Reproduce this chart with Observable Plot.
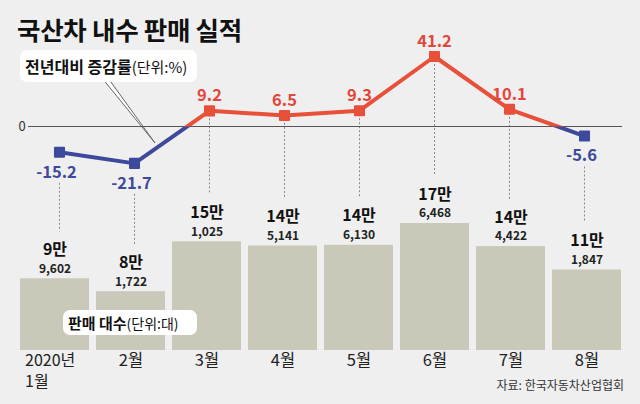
<!DOCTYPE html>
<html>
<head>
<meta charset="utf-8">
<script src="https://cdn.jsdelivr.net/npm/d3@7"></script>
<script src="https://cdn.jsdelivr.net/npm/@observablehq/plot@0.6"></script>
<style>
  html, body { margin: 0; padding: 0; background: #efefef; }
  #wrap { position: relative; width: 640px; height: 404px; background: #efefef; overflow: hidden;
          font-family: "Noto Sans CJK KR", "Noto Sans", sans-serif; color: #111; }
  .layer { position: absolute; left: 0; top: 0; }
  .title { position: absolute; left: 17px; top: 10px; font-size: 25.5px; font-weight: 700; letter-spacing: -0.3px; color: #111; }
  .box { position: absolute; background: #fff; border-radius: 7px; white-space: nowrap; color: #111; }
  .box b { font-weight: 700; }
  .box span { font-weight: 400; }
  .src { position: absolute; right: 16px; top: 376px; font-size: 12px; color: #333; }
</style>
</head>
<body>
<div id="wrap">
  <div class="title">국산차 내수 판매 실적</div>
  <div id="bars" class="layer"></div>
  <div class="box" style="left:63px;top:310px;width:134px;height:25px;line-height:25px;font-size:15px;text-indent:5px;"><b>판매 대수</b><span style="font-size:14px">(단위:대)</span></div>
  <svg class="layer" width="640" height="404" style="pointer-events:none">
    <polygon points="102,78 155,143 108,78" fill="#fff" stroke="#666" stroke-width="1"/>
  </svg>
  <div id="line" class="layer"></div>
  <div class="box" style="left:20px;top:50px;width:177px;height:32px;line-height:32px;font-size:16px;text-indent:5px;"><b>전년대비 증감률</b><span style="font-size:15px">(단위:%)</span></div>
  <div class="src">자료: 한국자동차산업협회</div>
</div>
<script>
const months = ["1월", "2월", "3월", "4월", "5월", "6월", "7월", "8월"];
const monthLabels = ["1월", "2월", "3월", "4월", "5월", "6월", "7월", "8월"];
const yearLabel = "2020년";
const sales = [99602, 81722, 151025, 145141, 146130, 176468, 144422, 111847];
const change = [-15.2, -21.7, 9.2, 6.5, 9.3, 41.2, 10.1, -5.6];

const RED = "#e8503a", BLUE = "#3d4a9c", REDTXT = "#e2473a", BAR = "#c9c8b9";
const data = months.map((m, i) => ({month: m, label: monthLabels[i], sales: sales[i], change: change[i]}));

const xOpts = {domain: months, paddingInner: 0.086, paddingOuter: 0, align: 0.5, axis: null};
const yBarOpts = {domain: [0, 176468], range: [350, 223], axis: null};
const yLineOpts = {domain: [0, 41.2], range: [126, 56], axis: null};
const yBar = Plot.scale({y: yBarOpts});
const yLine = Plot.scale({y: yLineOpts});
const common = {width: 640, height: 404, marginLeft: 18, marginRight: 16, marginTop: 0, marginBottom: 0,
  style: {background: "transparent", fontFamily: "'Noto Sans CJK KR', 'Noto Sans', sans-serif", overflow: "visible"}};

const man = d => Math.floor(d.sales / 10000) + "만";
const rest = d => d3.format(",")(d.sales % 10000);

const barPlot = Plot.plot({
  ...common,
  x: xOpts,
  y: yBarOpts,
  marks: [
    Plot.barY(data, {x: "month", y: "sales", fill: BAR}),
    Plot.text(data, {x: "month", y: "sales", text: rest, dy: -10, fontSize: 12, fontWeight: 700, fill: "#222", style: {letterSpacing: "0.6px"}}),
    Plot.text(data, {x: "month", y: "sales", text: man, dy: -29, fontSize: 16, fontWeight: 700, fill: "#111"}),
    Plot.text(data.slice(1), {x: "month", y: () => 0, text: "label", lineAnchor: "top", dy: 4, fontSize: 16.5, fill: "#222"}),
    Plot.text(data.slice(0, 1), {x: "month", y: () => 0, text: () => yearLabel, lineAnchor: "top", textAnchor: "start", dx: -30, dy: 4, fontSize: 16, fill: "#222"}),
    Plot.text(data.slice(0, 1), {x: "month", y: () => 0, text: "label", lineAnchor: "top", textAnchor: "start", dx: -30, dy: 25, fontSize: 16, fill: "#222"})
  ]
});
document.getElementById("bars").append(barPlot);

const bottomOf = d => yLine.invert(yBar.apply(d.sales));
const pos = data.filter(d => d.change >= 0), neg = data.filter(d => d.change < 0);

const linePlot = Plot.plot({
  ...common,
  x: xOpts,
  y: yLineOpts,
  marks: [
    Plot.ruleX(pos, {x: "month", y1: "change", y2: bottomOf, insetBottom: 47, stroke: "#888", strokeDasharray: "2,2"}),
    Plot.ruleX(neg, {x: "month", y1: "change", y2: bottomOf, insetTop: 31, insetBottom: 47, stroke: "#888", strokeDasharray: "2,2"}),
    Plot.ruleY([0], {stroke: "#555", strokeWidth: 1, insetLeft: 10, insetRight: 2}),
    Plot.text([0], {y: d => d, text: d => String(d), frameAnchor: "left", textAnchor: "start", fontSize: 13, fill: "#333", dy: 0}),
    Plot.line(data, {x: "month", y: "change", stroke: BLUE, strokeWidth: 4}),
    Plot.line(data, {x: "month", y: "change", stroke: RED, strokeWidth: 4}),
    Plot.dot(pos, {x: "month", y: "change", symbol: "square", r: 5.1, fill: RED, stroke: RED, strokeWidth: 2, strokeLinejoin: "round"}),
    Plot.dot(neg, {x: "month", y: "change", symbol: "square", r: 5.1, fill: BLUE, stroke: BLUE, strokeWidth: 2, strokeLinejoin: "round"}),
    Plot.text(pos, {x: "month", y: "change", text: d => d.change.toFixed(1), dy: -15, fontSize: 16.5, fontWeight: 700, fill: REDTXT, style: {letterSpacing: "1px"}}),
    Plot.text(neg, {x: "month", y: "change", text: d => d.change.toFixed(1), dy: 20, dx: -3, fontSize: 16.5, fontWeight: 700, fill: BLUE, style: {letterSpacing: "1px"}})
  ]
});
document.getElementById("line").append(linePlot);

// split the line colour at zero using clip paths derived from the y scale
const zeroPx = linePlot.scale("y").apply(0);
const ns = "http://www.w3.org/2000/svg";
const defs = document.createElementNS(ns, "defs");
function clip(id, y, h) {
  const cp = document.createElementNS(ns, "clipPath");
  cp.setAttribute("id", id);
  const r = document.createElementNS(ns, "rect");
  r.setAttribute("x", 0); r.setAttribute("y", y); r.setAttribute("width", 640); r.setAttribute("height", h);
  cp.append(r); defs.append(cp);
}
clip("below0", zeroPx, 404 - zeroPx);
clip("above0", 0, zeroPx);
linePlot.prepend(defs);
const lines = linePlot.querySelectorAll('g[aria-label="line"]');
lines[0].setAttribute("clip-path", "url(#below0)");
lines[1].setAttribute("clip-path", "url(#above0)");
</script>
</body>
</html>
